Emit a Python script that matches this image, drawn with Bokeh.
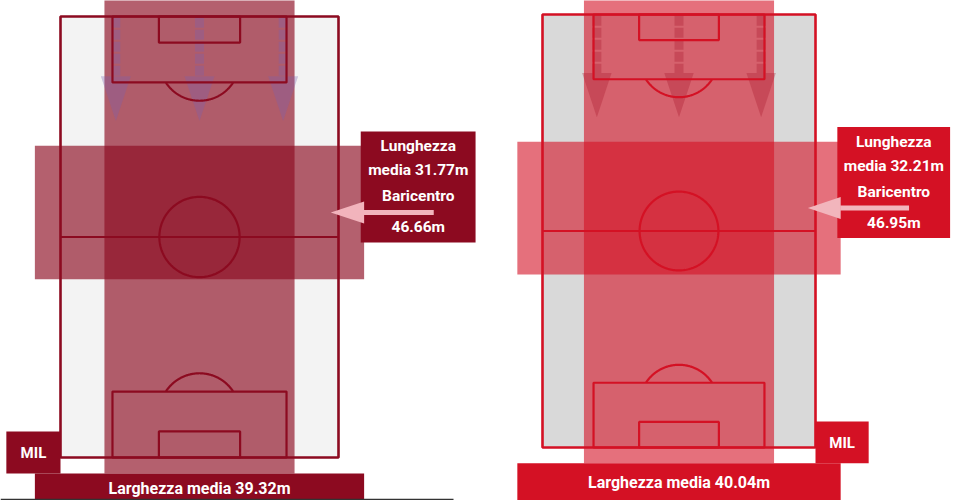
import numpy as np
from bokeh.plotting import figure
from bokeh.layouts import row
from bokeh.models import Range1d
from bokeh.core.properties import value
from bokeh.embed import file_html
from bokeh.resources import INLINE

# ---- data ----
teams = ["MIL", "MIL"]
larghezza = [39.32, 40.04]      # average width (m)
lunghezza = [31.77, 32.21]      # average length (m)
baricentro = [46.66, 46.95]     # centre of gravity (m from own goal line)

# ---- pitch model (chart units) ----
PITCH_W = 57.5
PITCH_L = 105.0
BOX_HALF, BOX_DEPTH = 18.0, 15.7
SIX_HALF, SIX_DEPTH = 8.4, 6.2
SPOT = 10.5
CIRCLE_R = 8.3
H_OVER = 5.3      # horizontal band overhang beyond touchlines
V_OVER = 3.8      # vertical band overhang beyond goal lines

FIG_H = 500
FONT = value("Roboto")

panels = [
    dict(fw=485, px0=60, py0=16, pw=278, ph=441, side="left",
         dark="#8C0A20", band_alpha=0.65, pitch_bg="#F3F3F3",
         arrow="#7a5fb0", pointer="#F2B4BC"),
    dict(fw=484, px0=57, py0=14, pw=273, ph=433, side="right",
         dark="#D41124", band_alpha=0.6, pitch_bg="#D9D9D9",
         arrow="#a8182a", pointer="#F2B5BC"),
]


def build(i, g):
    W, L = PITCH_W, PITCH_L
    sx = g["pw"] / W
    sy = g["ph"] / L
    x0 = -g["px0"] / sx
    x1 = (g["fw"] - g["px0"]) / sx
    ytop = -g["py0"] / sy
    ybot = (FIG_H - g["py0"]) / sy
    p = figure(width=g["fw"], height=FIG_H,
               x_range=Range1d(x0, x1), y_range=Range1d(ybot, ytop),
               x_axis_type=None, y_axis_type=None,
               output_backend="svg", toolbar_location=None, min_border=0)
    p.outline_line_color = None
    p.grid.visible = False
    p.background_fill_color = "white"
    p.border_fill_color = "white"

    dark = g["dark"]
    lw = 2.2
    wid = larghezza[i]
    lng = lunghezza[i]
    bar = baricentro[i]

    # pitch background
    p.quad(left=0, right=W, top=0, bottom=L, fill_color=g["pitch_bg"], line_color=None)

    # horizontal band (length) centred on baricentro
    p.quad(left=-H_OVER, right=W + H_OVER, top=bar - lng / 2, bottom=bar + lng / 2,
           fill_color=dark, fill_alpha=g["band_alpha"], line_color=None)
    # vertical band (width)
    p.quad(left=W / 2 - wid / 2, right=W / 2 + wid / 2, top=-V_OVER - 20, bottom=L + V_OVER,
           fill_color=dark, fill_alpha=g["band_alpha"], line_color=None)

    # attack direction arrows
    axs = [W / 2 - 17.3, W / 2, W / 2 + 17.3]
    p.segment(x0=axs, y0=[0.3] * 3, x1=axs, y1=[14.2] * 3, line_color=g["arrow"],
              line_alpha=0.32, line_width=9, line_dash="10 2", line_cap="butt")
    p.patches(xs=[[a - 3.1, a + 3.1, a] for a in axs],
              ys=[[14.2, 14.2, 24.9]] * 3,
              fill_color=g["arrow"], fill_alpha=0.32, line_color=None)

    # pitch lines
    p.quad(left=0, right=W, top=0, bottom=L, fill_color=None, line_color=dark, line_width=2.6)
    p.segment(x0=0, y0=L / 2, x1=W, y1=L / 2, line_color=dark, line_width=lw)
    for top, bot in [(0, BOX_DEPTH), (L - BOX_DEPTH, L)]:
        p.quad(left=W / 2 - BOX_HALF, right=W / 2 + BOX_HALF, top=top, bottom=bot,
               fill_color=None, line_color=dark, line_width=lw)
    for top, bot in [(0, SIX_DEPTH), (L - SIX_DEPTH, L)]:
        p.quad(left=W / 2 - SIX_HALF, right=W / 2 + SIX_HALF, top=top, bottom=bot,
               fill_color=None, line_color=dark, line_width=lw)
    rx = CIRCLE_R
    ry = CIRCLE_R * sx / sy
    t = np.linspace(0, 2 * np.pi, 200)
    p.line(W / 2 + rx * np.cos(t), L / 2 + ry * np.sin(t), line_color=dark, line_width=lw)
    t2 = np.linspace(0, np.pi, 200)
    ax_ = W / 2 + rx * np.cos(t2)
    ay_ = SPOT + ry * np.sin(t2)
    m = ay_ >= BOX_DEPTH
    p.line(ax_[m], ay_[m], line_color=dark, line_width=lw)
    by_ = L - SPOT - ry * np.sin(t2)
    m2 = by_ <= L - BOX_DEPTH
    p.line(ax_[m2], by_[m2], line_color=dark, line_width=lw)

    # label box for length / baricentro
    p.quad(left=W + 4.6, right=W + 28.35, top=bar - 81 / sy, bottom=bar + 30 / sy,
           fill_color=dark, line_color=None)
    # baricentro pointer
    hh = 11 / sy
    sh = 2.5 / sy
    p.patch([W - 1.6, W + 5.3, W + 5.3], [bar, bar - hh, bar + hh],
            fill_color=g["pointer"], line_color=None)
    p.quad(left=W + 5.2, right=W + 19.7, top=bar - sh, bottom=bar + sh,
           fill_color=g["pointer"], line_color=None)
    lines = ["Lunghezza", f"media {lng:.2f}m", "Baricentro", f"{bar:.2f}m"]
    offs = [-66.5, -42, -16.5, 14.5]
    p.text(x=[W + 16.5] * 4, y=[bar + o / sy for o in offs], text=lines,
           text_color="white", text_font=FONT, text_font_style="bold",
           text_font_size="15.5px", text_align="center", text_baseline="middle")

    # bottom width band
    btop = L + V_OVER
    p.quad(left=-H_OVER, right=W + H_OVER, top=btop, bottom=ybot + 5,
           fill_color=dark, line_color=None)
    ty = min(btop + 19 / sy, ybot - 12 / sy)
    p.text(x=[W / 2], y=[ty], text=[f"Larghezza media {wid:.2f}m"],
           text_color="white", text_font=FONT, text_font_style="bold",
           text_font_size="16px", text_align="center", text_baseline="middle")

    # team box
    if g["side"] == "left":
        bl, br = -11.2, 0
    else:
        bl, br = W, W + 11.2
    p.quad(left=bl, right=br, top=L - 26 / sy, bottom=btop, fill_color=dark, line_color=None)
    p.text(x=[(bl + br) / 2], y=[L - 5 / sy], text=[teams[i]],
           text_color="white", text_font=FONT, text_font_style="bold",
           text_font_size="15px", text_align="center", text_baseline="middle")

    if g["side"] == "left":
        yb = (499 - g["py0"]) / sy
        p.segment(x0=x0, y0=yb, x1=(453 - g["px0"]) / sx, y1=yb,
                  line_color="#333333", line_width=1.5)
    return p


figs = [build(i, g) for i, g in enumerate(panels)]
layout = row(*figs, spacing=0)
open("out.html", "w").write(file_html(layout, INLINE))
